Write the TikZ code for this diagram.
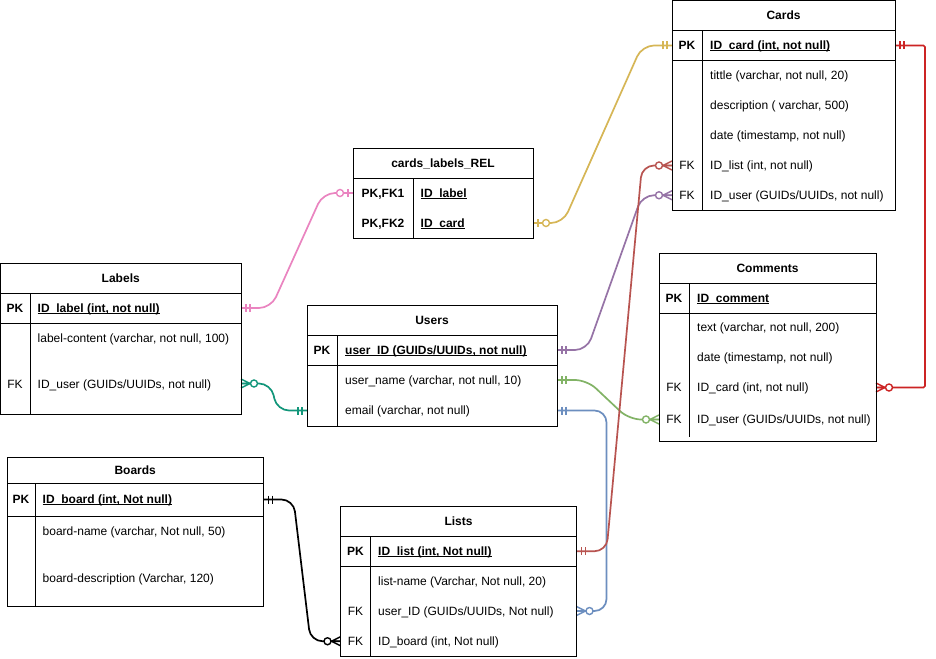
\documentclass[tikz,border=0pt]{standalone}
\usepackage{fontspec}
\setmainfont{Liberation Sans}
\usetikzlibrary{calc}

\definecolor{cYellow}{HTML}{D6B656}
\definecolor{cPink}{RGB}{234,132,192}
\definecolor{cTeal}{RGB}{18,150,122}
\definecolor{cPurple}{HTML}{9673A6}
\definecolor{cGreen}{HTML}{82B366}
\definecolor{cBlue}{HTML}{6C8EBF}
\definecolor{cRed}{HTML}{B85450}
\definecolor{cDarkRed}{RGB}{204,36,36}

\newcommand\erfont{\fontsize{12}{14}\selectfont}
% underline placed just under the baseline, as in the ER sheets
\newcommand\undl[1]{\setbox0\hbox{#1}\rlap{\rule[-1.7pt]{\wd0}{0.8pt}}\box0}

\tikzset{
  tbl/.style={draw=black, line width=1pt},
  rowspan/.style={inner sep=0pt, outer sep=0pt, anchor=north west},
  ttl/.style={anchor=base, inner sep=0pt, font=\erfont\bfseries},
  pkkey/.style={anchor=base, inner sep=0pt, font=\erfont\bfseries},
  fkkey/.style={anchor=base, inner sep=0pt, font=\erfont},
  fld/.style={anchor=base west, inner sep=0pt, font=\erfont},
  pkfld/.style={anchor=base west, inner sep=0pt, font=\erfont\bfseries},
  erline/.style={line width=1.7pt, rounded corners=12pt},
  mk/.style={line width=1.4pt},
  % crow's-foot end markers; local +x points away from the table
  mandone/.pic={\draw (5,-4) -- (5,4) (9,-4) -- (9,4);},
  zeroone/.pic={\draw (5,-4) -- (5,4); \draw[fill=white] (13,0) circle (3.5pt);},
  zeromany/.pic={\draw (0,-4.5) -- (9,0) -- (0,4.5) (0,0) -- (9,0); \draw[fill=white] (13,0) circle (3.5pt);},
}

\begin{document}
\begin{tikzpicture}[x=1pt,y=-1pt]
\path[fill=white,use as bounding box] (0,0) rectangle (936,658);

% ---------- row anchors ----------
% Cards
\node[rowspan, minimum width=223pt, minimum height=30pt] (cards-pk) at (672,30.5) {};
\node[rowspan, minimum width=223pt, minimum height=30pt] (cards-tittle) at (672,60.5) {};
\node[rowspan, minimum width=223pt, minimum height=30pt] (cards-desc) at (672,90.5) {};
\node[rowspan, minimum width=223pt, minimum height=30pt] (cards-date) at (672,120.5) {};
\node[rowspan, minimum width=223pt, minimum height=30pt] (cards-list) at (672,150.5) {};
\node[rowspan, minimum width=223pt, minimum height=29.5pt] (cards-user) at (672,180.5) {};
% cards_labels_REL
\node[rowspan, minimum width=180pt, minimum height=30pt] (rel-label) at (353,178) {};
\node[rowspan, minimum width=180pt, minimum height=30pt] (rel-card) at (353,208) {};
% Labels
\node[rowspan, minimum width=240.5pt, minimum height=30pt] (labels-pk) at (0.5,293) {};
\node[rowspan, minimum width=240.5pt, minimum height=30pt] (labels-content) at (0.5,323) {};
\node[rowspan, minimum width=240.5pt, minimum height=61pt] (labels-user) at (0.5,353) {};
% Users
\node[rowspan, minimum width=250pt, minimum height=30pt] (users-pk) at (307,335) {};
\node[rowspan, minimum width=250pt, minimum height=30pt] (users-name) at (307,365) {};
\node[rowspan, minimum width=250pt, minimum height=31pt] (users-email) at (307,395) {};
% Comments
\node[rowspan, minimum width=217pt, minimum height=30pt] (comments-pk) at (659,283) {};
\node[rowspan, minimum width=217pt, minimum height=30pt] (comments-text) at (659,313) {};
\node[rowspan, minimum width=217pt, minimum height=30pt] (comments-date) at (659,343) {};
\node[rowspan, minimum width=217pt, minimum height=29pt] (comments-card) at (659,373) {};
\node[rowspan, minimum width=217pt, minimum height=35pt] (comments-user) at (659,402) {};
% Boards
\node[rowspan, minimum width=256.5pt, minimum height=33pt] (boards-pk) at (7,483) {};
\node[rowspan, minimum width=256.5pt, minimum height=31pt] (boards-name) at (7,516) {};
\node[rowspan, minimum width=256.5pt, minimum height=59pt] (boards-desc) at (7,547) {};
% Lists
\node[rowspan, minimum width=236pt, minimum height=29.5pt] (lists-pk) at (340.5,536.5) {};
\node[rowspan, minimum width=236pt, minimum height=30pt] (lists-name) at (340.5,566) {};
\node[rowspan, minimum width=236pt, minimum height=30pt] (lists-user) at (340.5,596) {};
\node[rowspan, minimum width=236pt, minimum height=30.5pt] (lists-board) at (340.5,626) {};

% ---------- relationships ----------
\draw[erline, cYellow] (rel-card.east) -- ++(30,0) -- ($(cards-pk.west)+(-30,0)$) -- (cards-pk.west);
\draw[erline, cPink] (labels-pk.east) -- ++(30,0) -- ($(rel-label.west)+(-30,0)$) -- (rel-label.west);
\draw[erline, cTeal] (labels-user.east) -- ++(30,0) -- ($(users-email.west)+(-30,0)$) -- (users-email.west);
\draw[erline, cPurple] (users-pk.east) -- ++(30,0) -- ($(cards-user.west)+(-30,0)$) -- (cards-user.west);
\draw[erline, cGreen] (users-name.east) -- ++(30,0) -- ($(comments-user.west)+(-30,0)$) -- (comments-user.west);
\draw[erline, cBlue] (users-email.east) -| ($(lists-user.east)+(30,0)$) -- (lists-user.east);
\draw[erline, cRed] (lists-pk.east) -- ++(30,0) -- ($(cards-list.west)+(-30,0)$) -- (cards-list.west);
\draw[erline, cDarkRed, rounded corners=1.5pt] (cards-pk.east) -- ++(30,0) |- (comments-card.east);
\draw[erline, black] (boards-pk.east) -- ++(30,0) -- ($(lists-board.west)+(-30,0)$) -- (lists-board.west);

% ---------- end markers ----------
\pic[mk, cYellow] at (rel-card.east) {zeroone};
\pic[mk, cYellow, rotate=180] at (cards-pk.west) {mandone};
\pic[mk, cPink] at (labels-pk.east) {mandone};
\pic[mk, cPink, rotate=180] at (rel-label.west) {zeroone};
\pic[mk, cTeal] at (labels-user.east) {zeromany};
\pic[mk, cTeal, rotate=180] at (users-email.west) {mandone};
\pic[mk, cPurple] at (users-pk.east) {mandone};
\pic[mk, cPurple, rotate=180] at (cards-user.west) {zeromany};
\pic[mk, cGreen] at (users-name.east) {mandone};
\pic[mk, cGreen, rotate=180] at (comments-user.west) {zeromany};
\pic[mk, cBlue] at (users-email.east) {mandone};
\pic[mk, cBlue] at (lists-user.east) {zeromany};
\pic[mk, cRed] at (lists-pk.east) {mandone};
\pic[mk, cRed, rotate=180] at (cards-list.west) {zeromany};
\pic[mk, cDarkRed] at (cards-pk.east) {mandone};
\pic[mk, cDarkRed] at (comments-card.east) {zeromany};
\pic[mk, black] at (boards-pk.east) {mandone};
\pic[mk, black, rotate=180] at (lists-board.west) {zeromany};

% ---------- table outlines ----------
\draw[tbl] (672,1) rectangle (895,210) (672,30.5) -- (895,30.5) (672,60.5) -- (895,60.5) (702,30.5) -- (702,210);
\draw[tbl] (353,148) rectangle (533,238) (353,178) -- (533,178) (413,178) -- (413,238);
\draw[tbl] (0.5,263) rectangle (241,414) (0.5,293) -- (241,293) (0.5,323) -- (241,323) (30,293) -- (30,414);
\draw[tbl] (307,305) rectangle (557,426) (307,335) -- (557,335) (307,365) -- (557,365) (337,335) -- (337,426);
\draw[tbl] (659,253) rectangle (876,441) (659,283) -- (876,283) (659,313) -- (876,313) (689,283) -- (689,437);
\draw[tbl] (7,457) rectangle (263.5,606) (7,483) -- (263.5,483) (7,516) -- (263.5,516) (35.5,483) -- (35.5,606);
\draw[tbl] (340.5,506.5) rectangle (576.5,656.5) (340.5,536.5) -- (576.5,536.5) (340.5,566) -- (576.5,566) (370.5,536.5) -- (370.5,656.5);

% ---------- Cards ----------
\node[ttl] (t-cards) at (783.5,19.75) {Cards};
\node[pkkey] (k-cards-pk) at (687,49.5) {PK};
\node[pkfld] (f-cards-pk) at (710,49.5) {\undl{ID\_card (int, not null)}};
\node[fld] (f-cards-tittle) at (710,79.5) {tittle (varchar, not null, 20)};
\node[fld] (f-cards-desc) at (710,109.5) {description ( varchar, 500)};
\node[fld] (f-cards-date) at (710,139.5) {date (timestamp, not null)};
\node[fkkey] (k-cards-list) at (687,169.5) {FK};
\node[fld] (f-cards-list) at (710,169.5) {ID\_list (int, not null)};
\node[fkkey] (k-cards-user) at (687,199.25) {FK};
\node[fld] (f-cards-user) at (710,199.25) {ID\_user (GUIDs/UUIDs, not null)};

% ---------- cards_labels_REL ----------
\node[ttl] (t-rel) at (443,167) {cards\_labels\_REL};
\node[pkkey] (k-rel-label) at (383,197) {PK,FK1};
\node[pkfld] (f-rel-label) at (420.5,197) {\undl{ID\_label}};
\node[pkkey] (k-rel-card) at (383,227) {PK,FK2};
\node[pkfld] (f-rel-card) at (420.5,227) {\undl{ID\_card}};

% ---------- Labels ----------
\node[ttl] (t-labels) at (120.75,282) {Labels};
\node[pkkey] (k-labels-pk) at (15,312) {PK};
\node[pkfld] (f-labels-pk) at (37.5,312) {\undl{ID\_label (int, not null)}};
\node[fld] (f-labels-content) at (37.5,342.5) {label-content (varchar, not null, 100)};
\node[fkkey] (k-labels-user) at (15,388) {FK};
\node[fld] (f-labels-user) at (37.5,388) {ID\_user (GUIDs/UUIDs, not null)};

% ---------- Users ----------
\node[ttl] (t-users) at (432,324) {Users};
\node[pkkey] (k-users-pk) at (322,354) {PK};
\node[pkfld] (f-users-pk) at (345,354) {\undl{user\_ID (GUIDs/UUIDs, not null)}};
\node[fld] (f-users-name) at (345,384) {user\_name (varchar, not null, 10)};
\node[fld] (f-users-email) at (345,414) {email (varchar, not null)};

% ---------- Comments ----------
\node[ttl] (t-comments) at (767.5,272) {Comments};
\node[pkkey] (k-comments-pk) at (674,302) {PK};
\node[pkfld] (f-comments-pk) at (697,302) {\undl{ID\_comment}};
\node[fld] (f-comments-text) at (697,331) {text (varchar, not null, 200)};
\node[fld] (f-comments-date) at (697,361) {date (timestamp, not null)};
\node[fkkey] (k-comments-card) at (674,391) {FK};
\node[fld] (f-comments-card) at (697,391) {ID\_card (int, not null)};
\node[fkkey] (k-comments-user) at (674,423) {FK};
\node[fld] (f-comments-user) at (697,423) {ID\_user (GUIDs/UUIDs, not null)};

% ---------- Boards ----------
\node[ttl] (t-boards) at (135.25,474) {Boards};
\node[pkkey] (k-boards-pk) at (21,503.5) {PK};
\node[pkfld] (f-boards-pk) at (42.5,503.5) {\undl{ID\_board (int, Not null)}};
\node[fld] (f-boards-name) at (42.5,535.5) {board-name (varchar, Not null, 50)};
\node[fld] (f-boards-desc) at (42.5,582) {board-description (Varchar, 120)};

% ---------- Lists ----------
\node[ttl] (t-lists) at (458.5,525.5) {Lists};
\node[pkkey] (k-lists-pk) at (355.5,555) {PK};
\node[pkfld] (f-lists-pk) at (378,555) {\undl{ID\_list (int, Not null)}};
\node[fld] (f-lists-name) at (378,585) {list-name (Varchar, Not null, 20)};
\node[fkkey] (k-lists-user) at (355.5,615) {FK};
\node[fld] (f-lists-user) at (378,615) {user\_ID (GUIDs/UUIDs, Not null)};
\node[fkkey] (k-lists-board) at (355.5,645) {FK};
\node[fld] (f-lists-board) at (378,645) {ID\_board (int, Not null)};
\end{tikzpicture}
\end{document}
